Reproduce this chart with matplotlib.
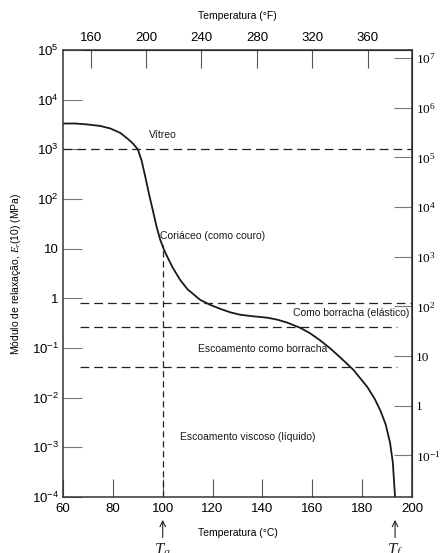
import matplotlib

matplotlib.use("Agg")

import matplotlib.pyplot as plt
import numpy as np

plt.rcParams["font.family"] = ["Liberation Sans", "DejaVu Sans"]
plt.rcParams["mathtext.fontset"] = "custom"
plt.rcParams["mathtext.rm"] = "Liberation Sans"
plt.rcParams["mathtext.it"] = "Liberation Serif:italic"

# =====================
# DATA
# =====================

temp_c = [60, 65, 70, 75, 79, 83, 86, 88, 90, 91.5, 93, 94.5, 96, 97.5, 99,
          100.5, 102, 104, 107, 110, 115, 119, 123, 127, 131, 136, 142, 146,
          150, 155, 159, 163, 167, 171, 176.5, 182, 185, 187.5, 189.5, 191.2,
          192.3, 193.2]
log_modulus = [3.52, 3.52, 3.50, 3.47, 3.42, 3.33, 3.21, 3.12, 3.0, 2.78,
               2.45, 2.1, 1.78, 1.45, 1.18, 0.98, 0.82, 0.62, 0.37, 0.18,
               -0.03, -0.13, -0.21, -0.28, -0.33, -0.36, -0.39, -0.43, -0.49,
               -0.59, -0.70, -0.84, -1.0, -1.18, -1.44, -1.78, -2.02, -2.28,
               -2.55, -2.91, -3.3, -4.0]

region_levels = [1000, 0.8, 0.26, 0.042]
region_start = [60, 67, 67, 67]
region_end = [200, 200, 194, 194]

tg = 100
tg_top = 12
tf = 193.2

region_labels = ["Vítreo", "Coriáceo (como couro)", "Como borracha (elástico)",
                 "Escoamento como borracha", "Escoamento viscoso (líquido)"]
label_x = [100, 99, 199, 140, 134]
label_y = [1900, 18, 0.5, 0.097, 0.0016]
label_ha = ["center", "left", "right", "center", "center"]

c_ticks = [60, 80, 100, 120, 140, 160, 180, 200]
f_ticks = [160, 200, 240, 280, 320, 360]
left_exp = [5, 4, 3, 2, 1, 0, -1, -2, -3, -4]
right_exp = [7, 6, 5, 4, 3, 2, 1, 0, -1]

MPA_TO_PSI = 145.04


def exp_label(e):
    if e == 1:
        return "10"
    if e == 0:
        return "1"
    return r"$\mathregular{10^{%d}}$" % e


# =====================
# FIGURE
# =====================

fig = plt.figure(figsize=(4.41, 5.53), dpi=100)
ax = fig.add_axes([63 / 441, 56 / 553, 349 / 441, 447 / 553])

ax.set_yscale("log")
ax.set_xlim(60, 200)
ax.set_ylim(1e-4, 1e5)

ax.plot(temp_c, 10.0 ** np.array(log_modulus), color="#1a1a1a", lw=1.3,
        solid_joinstyle="round")

for lvl, x0, x1 in zip(region_levels, region_start, region_end):
    ax.plot([x0, x1], [lvl, lvl], color="#222222", lw=0.9,
            dashes=(7, 4), clip_on=False)

ax.plot([tg, tg], [1e-4, tg_top], color="#222222", lw=0.9, dashes=(5, 3))

for txt, x, y, ha in zip(region_labels, label_x, label_y, label_ha):
    ax.text(x, y, txt, ha=ha, va="center", fontsize=7.5, color="#1a1a1a")

# axes styling
for s in ax.spines.values():
    s.set_linewidth(1.1)
    s.set_color("#333333")

ax.set_xticks(c_ticks)
ax.set_xticklabels([str(t) for t in c_ticks], fontsize=9.5)
ax.tick_params(axis="x", direction="in", length=13, width=0.8, pad=4,
               color="#555555")
ax.xaxis.set_minor_locator(matplotlib.ticker.NullLocator())

ax.set_yticks([10.0 ** e for e in left_exp])
ax.set_yticklabels([exp_label(e) for e in left_exp], fontsize=9.5)
ax.yaxis.set_minor_locator(matplotlib.ticker.NullLocator())
ax.tick_params(axis="y", direction="in", length=14, width=0.8, pad=3,
               color="#777777")

ax.set_xlabel("Temperatura (°C)", fontsize=7.5, labelpad=10)
ax.set_ylabel(r"Módulo de relaxação, $E_r$(10) (MPa)", fontsize=7.5,
              labelpad=6)

# top axis in Fahrenheit
top = ax.secondary_xaxis("top", functions=(lambda c: c * 9 / 5 + 32,
                                           lambda f: (f - 32) * 5 / 9))
top.set_xticks(f_ticks)
top.set_xticklabels([str(t) for t in f_ticks], fontsize=9.5)
top.tick_params(direction="in", length=13, width=0.8, pad=4, color="#555555")
top.set_xlabel("Temperatura (°F)", fontsize=7.5, labelpad=10)

# right axis in psi
right = ax.secondary_yaxis("right", functions=(lambda m: m * MPA_TO_PSI,
                                               lambda p: p / MPA_TO_PSI))
right.set_yscale("log")
right.set_yticks([10.0 ** e for e in right_exp])
right.set_yticklabels([exp_label(e) for e in right_exp], fontsize=9.5,
                      family="Liberation Serif")
right.yaxis.set_minor_locator(matplotlib.ticker.NullLocator())
right.tick_params(direction="in", length=13, width=0.8, pad=3,
                  color="#777777")

# Tg and Tf markers below the axis
for t, name in zip([tg, tf], [r"$T_g$", r"$T_f$"]):
    ax.annotate("", xy=(t, -0.045), xytext=(t, -0.097),
                xycoords=("data", "axes fraction"),
                textcoords=("data", "axes fraction"),
                arrowprops=dict(arrowstyle="->", lw=0.8, color="#222222"),
                annotation_clip=False)
    ax.text(t, -0.1, name, transform=ax.get_xaxis_transform(),
            ha="center", va="top", fontsize=12, color="#222222")

fig.savefig("out.png", dpi=100)
plt.close(fig)
